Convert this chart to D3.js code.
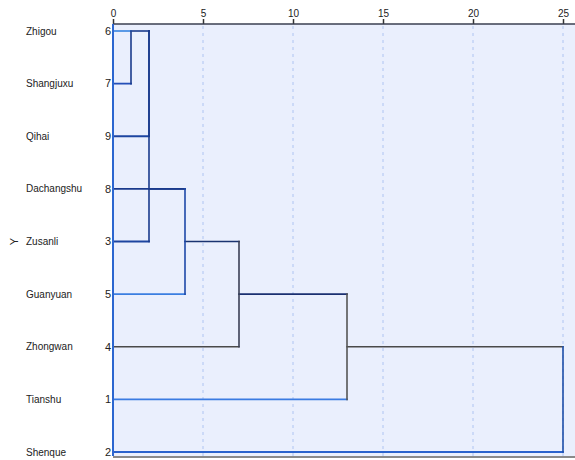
<!DOCTYPE html>
<html>
<head>
<meta charset="utf-8">
<script src="https://cdn.jsdelivr.net/npm/d3@7"></script>
<style>
  html, body { margin: 0; padding: 0; background: #fff; }
  svg { display: block; font-family: "Liberation Sans", Arial, sans-serif; }
</style>
</head>
<body>
<svg id="chart" width="575" height="460"></svg>
<script>
// Leaves in display order (top to bottom)
const leafNames = ["Zhigou", "Shangjuxu", "Qihai", "Dachangshu", "Zusanli", "Guanyuan", "Zhongwan", "Tianshu", "Shenque"];
const caseNumbers = [6, 7, 9, 8, 3, 5, 4, 1, 2];
const leafColors = ["#4a8fe4", "#2550b8", "#1d45a0", "#1a3a8c", "#1d45a0", "#3a7ee0", "#4a4a4a", "#3a7be2", "#2a62cc"];

// Rescaled distance ticks
const distTicks = [0, 5, 10, 15, 20, 25];

// Agglomeration steps: joined nodes, distance, row where the merged cluster continues
// node ids: "L<i>" = leaf row i, "M<k>" = merge k
const mergeIds = ["M1", "M2", "M3", "M4", "M5", "M6", "M7"];
const mergeChildren = [["L0", "L1"], ["M1", "L2"], ["M2", "L4"], ["M3", "L3", "L5"], ["M4", "L6"], ["M5", "L7"], ["M6", "L8"]];
const mergeHeights = [1, 2, 2, 4, 7, 13, 25];
const mergeRows = [0, 0, 3, 4, 5, 6, 6];
const mergeVertColors = ["#1a3a8c", "#1a3a8c", "#1a3a8c", "#1d48a8", "#3a3f55", "#555555", "#1d4ea8"];
const mergeOutColors = ["#1a3a8c", "#1a3a8c", "#1a3a8c", "#1a3370", "#1a2f70", "#4a4a4a", null];

const svg = d3.select("#chart");
const plotL = 113, plotR = 575, plotT = 24, plotB = 457;

const x = d3.scaleLinear().domain([0, 25]).range([plotL, 563]);
const y = d3.scalePoint().domain(d3.range(leafNames.length)).range([31, 452]);

// plot background
svg.append("rect")
  .attr("x", plotL).attr("y", plotT)
  .attr("width", plotR - plotL).attr("height", plotB - plotT)
  .attr("fill", "#eaeffd");

// dashed vertical grid
svg.append("g").selectAll("line")
  .data(distTicks.filter(d => d > 0))
  .join("line")
  .attr("x1", d => x(d)).attr("x2", d => x(d))
  .attr("y1", plotT + 2).attr("y2", plotB)
  .attr("stroke", "#aec4f2").attr("stroke-width", 1)
  .attr("stroke-dasharray", "3,4");

// top axis
const axis = d3.axisTop(x).tickValues(distTicks).tickSize(5).tickPadding(2).tickFormat(d3.format("d"));
const gAxis = svg.append("g").attr("transform", `translate(0,${plotT})`).call(axis);
gAxis.select(".domain").remove();
gAxis.selectAll(".tick line").attr("stroke", "#333").attr("stroke-width", 1.5);
gAxis.selectAll(".tick text").attr("font-size", 10).attr("fill", "#222")
  .attr("font-family", "Liberation Sans, Arial, sans-serif");
svg.append("line")
  .attr("x1", plotL).attr("x2", plotR).attr("y1", plotT).attr("y2", plotT)
  .attr("stroke", "#3a3f50").attr("stroke-width", 1.5);

// bottom border
svg.append("line")
  .attr("x1", plotL).attr("x2", plotR).attr("y1", plotB).attr("y2", plotB)
  .attr("stroke", "#8a8a8a").attr("stroke-width", 2);

// node positions
const nodeRow = {};
leafNames.forEach((_, i) => { nodeRow["L" + i] = i; });
mergeIds.forEach((id, k) => { nodeRow[id] = mergeRows[k]; });

const parentOf = {};
mergeIds.forEach((id, k) => mergeChildren[k].forEach(c => { parentOf[c] = k; }));

const links = svg.append("g").attr("fill", "none").attr("stroke-linecap", "square");

// merged-cluster horizontals
mergeIds.forEach((id, k) => {
  const p = parentOf[id];
  if (p === undefined) return;
  links.append("line")
    .attr("x1", x(mergeHeights[k])).attr("x2", x(mergeHeights[p]))
    .attr("y1", y(nodeRow[id])).attr("y2", y(nodeRow[id]))
    .attr("stroke", mergeOutColors[k]).attr("stroke-width", mergeOutColors[k] === "#4a4a4a" ? 1.3 : 1.6);
});

// leaf horizontals: each leaf runs to the distance where it first joins
leafNames.forEach((_, i) => {
  const p = parentOf["L" + i];
  links.append("line")
    .attr("x1", x(0)).attr("x2", x(mergeHeights[p]))
    .attr("y1", y(i)).attr("y2", y(i))
    .attr("stroke", leafColors[i]).attr("stroke-width", leafColors[i] === "#4a4a4a" ? 1.3 : 1.8);
});

// verticals
mergeIds.forEach((id, k) => {
  const rows = mergeChildren[k].map(c => nodeRow[c]);
  links.append("line")
    .attr("x1", x(mergeHeights[k])).attr("x2", x(mergeHeights[k]))
    .attr("y1", y(d3.min(rows))).attr("y2", y(d3.max(rows)))
    .attr("stroke", mergeVertColors[k]).attr("stroke-width", 1.6);
});

// left edge
svg.append("line")
  .attr("x1", plotL).attr("x2", plotL).attr("y1", plotT).attr("y2", plotB - 1)
  .attr("stroke", "#2c66d0").attr("stroke-width", 2);

// labels
const lab = svg.append("g").attr("font-size", 10).attr("fill", "#222");
lab.selectAll("text.name")
  .data(leafNames)
  .join("text")
  .attr("class", "name")
  .attr("x", 26).attr("y", (d, i) => y(i)).attr("dy", "0.35em")
  .text(d => d);
lab.selectAll("text.num")
  .data(caseNumbers)
  .join("text")
  .attr("class", "num")
  .attr("x", 111).attr("y", (d, i) => y(i)).attr("dy", "0.35em")
  .attr("text-anchor", "end")
  .attr("font-size", 11)
  .text(d => d);

// axis title
svg.append("text")
  .attr("transform", `translate(14,${y(4)}) rotate(-90)`)
  .attr("text-anchor", "middle").attr("dy", "0.35em")
  .attr("font-size", 11).attr("fill", "#222")
  .text("Y");
</script>
</body>
</html>
